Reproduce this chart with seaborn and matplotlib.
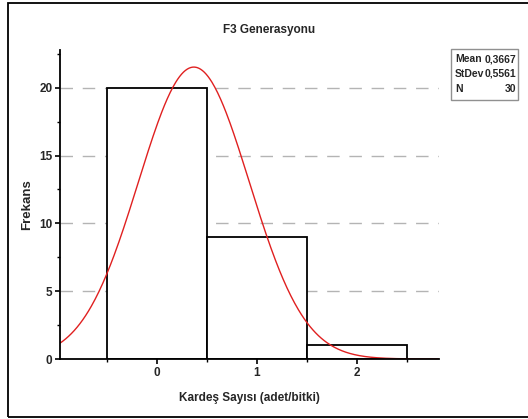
import numpy as np
import pandas as pd
import matplotlib
matplotlib.use("Agg")
import matplotlib.pyplot as plt
from matplotlib.patches import Rectangle
from matplotlib.ticker import MultipleLocator, FixedLocator
import seaborn as sns

# ---- data ----
categories = [0, 1, 2]
counts = [20, 9, 1]
bin_edges = [-0.5, 0.5, 1.5, 2.5]
mean_val = 0.3667
stdev_val = 0.5561
n_val = 30
title = "F3 Generasyonu"
xlabel = "Kardeş Sayısı (adet/bitki)"
ylabel = "Frekans"
xticks = [0, 1, 2]
yticks = [0, 5, 10, 15, 20]

sns.set_theme(style="white")
plt.rcParams['font.family'] = ['Liberation Sans', 'DejaVu Sans']

W, H = 528, 419
fig = plt.figure(figsize=(W / 100, H / 100), dpi=100)
fig.patch.set_facecolor("white")

# outer frame
fig.patches.append(Rectangle((8 / W, 1 - 417 / H), 1.2, (417 - 3) / H,
                             transform=fig.transFigure, fill=False,
                             edgecolor="black", linewidth=1.3, zorder=0))

ax = fig.add_axes([60 / W, 1 - 359 / H, (439 - 60) / W, (359 - 50) / H])
ax.set_facecolor("white")

xlim = (-0.976, 2.826)
ylim = (0, 22.78)

df = pd.DataFrame({"value": categories, "count": counts})
sns.histplot(data=df, x="value", weights="count", bins=bin_edges, ax=ax,
             color="white", edgecolor="black", linewidth=1.3, alpha=1, zorder=2)

# fitted normal curve from the reported mean/stdev/N (bin width 1)
xs = np.linspace(xlim[0], xlim[1], 400)
bw = bin_edges[1] - bin_edges[0]
ys = n_val * bw / (stdev_val * np.sqrt(2 * np.pi)) * np.exp(-0.5 * ((xs - mean_val) / stdev_val) ** 2)
sns.lineplot(x=xs, y=ys, ax=ax, color="#e02020", linewidth=1.0, zorder=3)

# dashed gridlines behind bars
for yv in yticks[1:]:
    ax.axhline(yv, color="#b4b4b4", linewidth=1.0, dashes=(9, 7), zorder=1)

ax.set_xlim(*xlim)
ax.set_ylim(*ylim)
ax.xaxis.set_major_locator(FixedLocator(xticks))
ax.xaxis.set_minor_locator(FixedLocator(bin_edges))
ax.yaxis.set_major_locator(FixedLocator(yticks))
ax.yaxis.set_minor_locator(MultipleLocator(2.5))

for s in ["top", "right"]:
    ax.spines[s].set_visible(False)
for s in ["left", "bottom"]:
    ax.spines[s].set_color("black")
    ax.spines[s].set_linewidth(1.3)
    ax.spines[s].set_zorder(4)

ax.tick_params(axis="both", which="major", direction="out", length=3.5, width=1.2,
               color="black", labelsize=8.5, pad=2, bottom=True, left=True)
ax.tick_params(axis="both", which="minor", direction="out", length=2, width=1.0,
               color="black", bottom=True, left=True)
for lab in ax.get_xticklabels() + ax.get_yticklabels():
    lab.set_fontweight("bold")

ax.set_xlabel(xlabel, fontsize=8.5, fontweight="bold", labelpad=8)
ax.set_ylabel(ylabel, fontsize=9.5, fontweight="bold", labelpad=12)
ax.yaxis.set_label_coords(-27 / (439 - 60), 0.5)
ax.xaxis.set_label_coords(0.5, -(392 - 359) / (359 - 50))

fig.text(269 / W, 1 - 30 / H, title, ha="center", va="center",
         fontsize=8.5, fontweight="bold")

# stats box
bx0, bx1, by0, by1 = 451, 518, 49, 100
fig.patches.append(Rectangle((bx0 / W, 1 - by1 / H), (bx1 - bx0) / W, (by1 - by0) / H,
                             transform=fig.transFigure, facecolor="white",
                             edgecolor="#909090", linewidth=1.0, zorder=5))
rows = [("Mean", f"{mean_val:.4f}".replace(".", ",")),
        ("StDev", f"{stdev_val:.4f}".replace(".", ",")),
        ("N", f"{n_val}")]
fam = ['Liberation Sans Narrow', 'Liberation Sans', 'DejaVu Sans']
for i, (k, v) in enumerate(rows):
    yy = 1 - (59 + i * 15) / H
    fig.text(455 / W, yy, k, ha="left", va="center", fontsize=7.5,
             fontweight="bold", family=fam, zorder=6)
    fig.text(516 / W, yy, v, ha="right", va="center", fontsize=7.5,
             fontweight="bold", family=fam, zorder=6)

fig.savefig("out.png", dpi=100)
